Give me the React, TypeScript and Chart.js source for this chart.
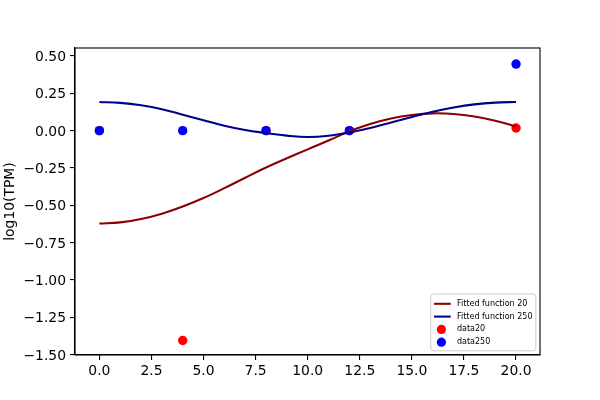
import React, { useEffect, useRef } from "react";
import { Chart, registerables } from "chart.js";

Chart.register(...registerables);

// Observed sample times
const sampleX = [0, 4, 8, 12, 20];
// Observed data (log10 TPM)
const data20 = [0, -1.405, 0, 0, 0.018];
const data250 = [0, 0, 0, 0, 0.446];

// Fitted curves
const curveX = [0, 1, 2, 3, 4, 5, 6, 7, 8, 9, 10, 11, 12, 13, 14, 15, 16, 17, 18, 19, 20];
const fit20 = [-0.622, -0.614, -0.592, -0.556, -0.508, -0.451, -0.385, -0.315, -0.247, -0.185, -0.125, -0.066, -0.004, 0.045, 0.082, 0.105, 0.116, 0.112, 0.095, 0.066, 0.028];
const fit250 = [0.192, 0.186, 0.17, 0.144, 0.107, 0.07, 0.033, 0.004, -0.016, -0.033, -0.042, -0.034, -0.012, 0.018, 0.055, 0.092, 0.127, 0.155, 0.176, 0.188, 0.192];

const seriesLabels = ["Fitted function 20", "Fitted function 250", "data20", "data250"];

const xTicks = [0, 2.5, 5, 7.5, 10, 12.5, 15, 17.5, 20];
const yTicks = [-1.5, -1.25, -1.0, -0.75, -0.5, -0.25, 0.0, 0.25, 0.5];

const FONT = "'DejaVu Sans', sans-serif";

export default function App() {
  const ref = useRef<HTMLCanvasElement>(null);

  useEffect(() => {
    const canvas = ref.current;
    if (!canvas) return;
    const pts = (xs: number[], ys: number[]) => xs.map((x, i) => ({ x, y: ys[i] }));

    const framePlugin = {
      id: "frame",
      afterDatasetsDraw(chart: any) {
        const { ctx, chartArea: a } = chart;
        ctx.save();
        ctx.strokeStyle = "#000";
        ctx.lineWidth = 1.1;
        ctx.strokeRect(a.left, a.top, a.right - a.left, a.bottom - a.top);
        ctx.restore();
      },
    };

    const legendPlugin = {
      id: "mplLegend",
      afterDraw(chart: any) {
        const { ctx, chartArea: a } = chart;
        const fs = 8;
        const ds = chart.data.datasets;
        ctx.save();
        ctx.font = `${fs}px ${FONT}`;
        let maxW = 0;
        ds.forEach((d: any) => {
          maxW = Math.max(maxW, ctx.measureText(d.label).width);
        });
        const pad = 3.3;
        const handleLen = 16.7;
        const textPad = 6.2;
        const rowH = 12.8;
        const w = pad + handleLen + textPad + maxW + pad;
        const h = 9.8 + rowH * (ds.length - 1) + 8.6;
        const right = a.right - 4.2;
        const bottom = a.bottom - 4.2;
        const left = right - w;
        const top = bottom - h;
        ctx.beginPath();
        const r = 2.5;
        ctx.moveTo(left + r, top);
        ctx.lineTo(right - r, top);
        ctx.quadraticCurveTo(right, top, right, top + r);
        ctx.lineTo(right, bottom - r);
        ctx.quadraticCurveTo(right, bottom, right - r, bottom);
        ctx.lineTo(left + r, bottom);
        ctx.quadraticCurveTo(left, bottom, left, bottom - r);
        ctx.lineTo(left, top + r);
        ctx.quadraticCurveTo(left, top, left + r, top);
        ctx.closePath();
        ctx.fillStyle = "rgba(255,255,255,0.8)";
        ctx.fill();
        ctx.strokeStyle = "#cccccc";
        ctx.lineWidth = 1;
        ctx.stroke();

        ds.forEach((d: any, i: number) => {
          const cy = top + 9.8 + i * rowH;
          const hx = left + pad;
          if (d.showLine) {
            ctx.beginPath();
            ctx.moveTo(hx, cy);
            ctx.lineTo(hx + handleLen, cy);
            ctx.strokeStyle = d.borderColor;
            ctx.lineWidth = 2.08;
            ctx.stroke();
          } else {
            ctx.beginPath();
            ctx.arc(hx + handleLen / 2 - 1, cy, 4.6, 0, Math.PI * 2);
            ctx.fillStyle = d.backgroundColor;
            ctx.fill();
          }
          ctx.fillStyle = "#000";
          ctx.textAlign = "left";
          ctx.textBaseline = "middle";
          ctx.fillText(d.label, hx + handleLen + textPad, cy);
        });
        ctx.restore();
      },
    };

    const tickFont = { family: FONT, size: 13.9 };

    const chart = new Chart(canvas, {
      type: "scatter",
      data: {
        datasets: [
          {
            label: seriesLabels[0],
            data: pts(curveX, fit20),
            showLine: true,
            borderColor: "#8b0000",
            backgroundColor: "#8b0000",
            borderWidth: 2.08,
            pointRadius: 0,
            tension: 0.4,
            order: 1,
          },
          {
            label: seriesLabels[1],
            data: pts(curveX, fit250),
            showLine: true,
            borderColor: "#00008b",
            backgroundColor: "#00008b",
            borderWidth: 2.08,
            pointRadius: 0,
            tension: 0.4,
            order: 0,
          },
          {
            label: seriesLabels[2],
            data: pts(sampleX, data20),
            showLine: false,
            backgroundColor: "#ff0000",
            borderColor: "#ff0000",
            borderWidth: 0,
            pointRadius: 4.7,
            order: 3,
          },
          {
            label: seriesLabels[3],
            data: pts(sampleX, data250),
            showLine: false,
            backgroundColor: "#0000ff",
            borderColor: "#0000ff",
            borderWidth: 0,
            pointRadius: 4.7,
            order: 2,
          },
        ],
      },
      options: {
        animation: false,
        responsive: false,
        devicePixelRatio: 1,
        layout: { padding: { top: 48, right: 60, left: 0, bottom: 0 } },
        plugins: {
          legend: { display: false },
          tooltip: { enabled: false },
        },
        scales: {
          x: {
            type: "linear",
            min: -1.17,
            max: 21.15,
            afterBuildTicks: (s: any) => {
              s.ticks = xTicks.map((v) => ({ value: v }));
            },
            afterFit: (s: any) => {
              s.height = 45;
            },
            ticks: {
              color: "#000",
              font: tickFont,
              padding: 3,
              maxRotation: 0,
              autoSkip: false,
              callback: (v: any) => Number(v).toFixed(1),
            },
            grid: {
              drawOnChartArea: false,
              drawTicks: true,
              tickLength: 5,
              color: "#000",
              lineWidth: 1.1,
            },
            border: { display: true, color: "#000", width: 1.1 },
          },
          y: {
            type: "linear",
            min: -1.502,
            max: 0.5535,
            afterBuildTicks: (s: any) => {
              s.ticks = yTicks.map((v) => ({ value: v }));
            },
            afterFit: (s: any) => {
              s.width = 75;
            },
            ticks: {
              color: "#000",
              font: tickFont,
              padding: 4,
              labelOffset: 1.5,
              autoSkip: false,
              callback: (v: any) => Number(v).toFixed(2).replace("-", "\u2212"),
            },
            grid: {
              drawOnChartArea: false,
              drawTicks: true,
              tickLength: 5,
              color: "#000",
              lineWidth: 1.1,
            },
            border: { display: true, color: "#000", width: 1.1 },
            title: {
              display: true,
              text: "log10(TPM)",
              color: "#000",
              font: { family: FONT, size: 13.9 },
              padding: { top: 2, bottom: 0 },
            },
          },
        },
      },
      plugins: [framePlugin, legendPlugin],
    } as any);

    return () => chart.destroy();
  }, []);

  return (
    <div style={{ position: "absolute", left: 0, top: 0, width: 600, height: 400, background: "#fff" }}>
      <canvas ref={ref} width={600} height={400} style={{ width: 600, height: 400, display: "block" }} />
    </div>
  );
}
